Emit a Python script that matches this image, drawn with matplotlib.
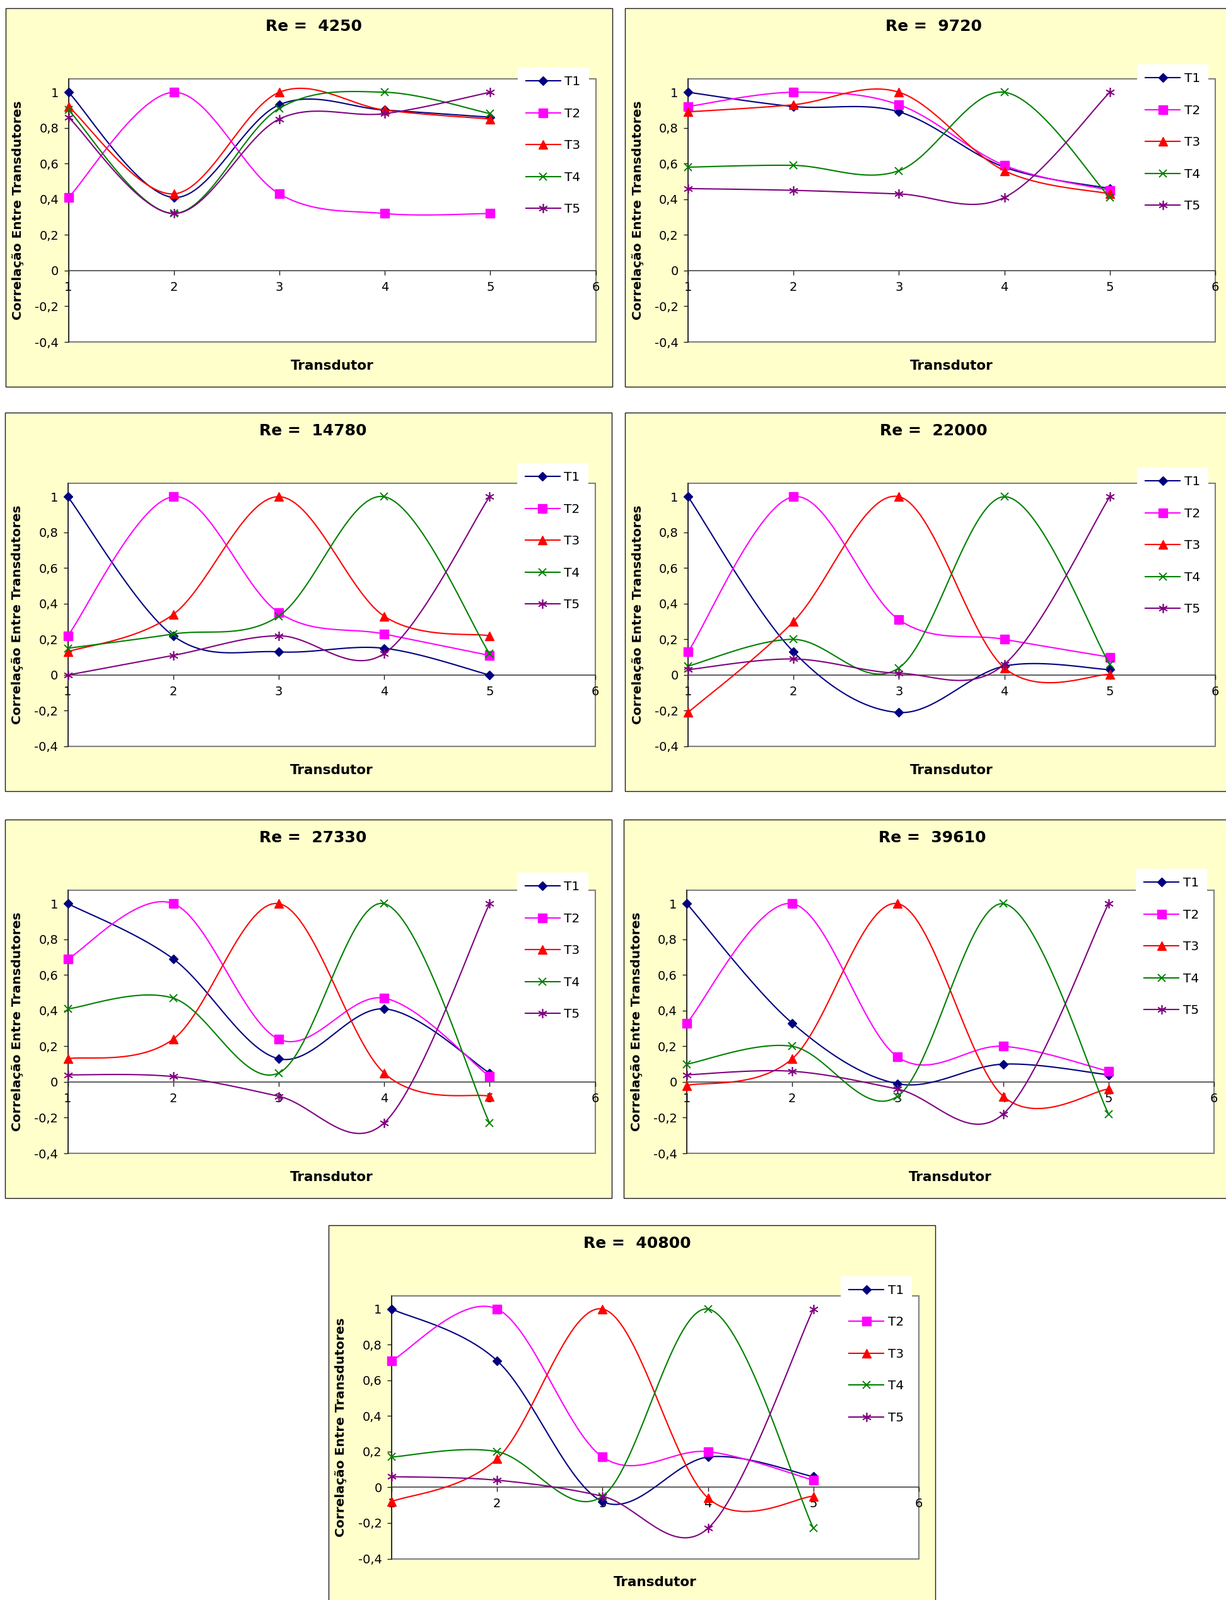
import numpy as np
import matplotlib
matplotlib.use("Agg")
import matplotlib.pyplot as plt
from matplotlib.patches import Rectangle

# ---------------- data ----------------
titles = ["Re =  4250", "Re =  9720", "Re =  14780", "Re =  22000",
          "Re =  27330", "Re =  39610", "Re =  40800"]
transducers = [1, 2, 3, 4, 5]
series_names = ["T1", "T2", "T3", "T4", "T5"]
xtick_values = [1, 2, 3, 4, 5, 6]
xtick_labels = ["1", "2", "3", "4", "5", "6"]
ytick_values = [-0.4, -0.2, 0.0, 0.2, 0.4, 0.6, 0.8, 1.0]
ytick_labels = ["-0,4", "-0,2", "0", "0,2", "0,4", "0,6", "0,8", "1"]
xlabel_text = "Transdutor"
ylabel_text = "Correlação Entre Transdutores"

re4250 = [[1.00, 0.41, 0.93, 0.90, 0.86],
          [0.41, 1.00, 0.43, 0.32, 0.32],
          [0.92, 0.43, 1.00, 0.90, 0.85],
          [0.90, 0.32, 0.91, 1.00, 0.88],
          [0.86, 0.32, 0.85, 0.88, 1.00]]
re9720 = [[1.00, 0.92, 0.89, 0.58, 0.46],
          [0.92, 1.00, 0.93, 0.59, 0.45],
          [0.89, 0.93, 1.00, 0.56, 0.43],
          [0.58, 0.59, 0.56, 1.00, 0.41],
          [0.46, 0.45, 0.43, 0.41, 1.00]]
re14780 = [[1.00, 0.22, 0.13, 0.15, 0.00],
           [0.22, 1.00, 0.35, 0.23, 0.11],
           [0.13, 0.34, 1.00, 0.33, 0.22],
           [0.15, 0.23, 0.33, 1.00, 0.12],
           [0.00, 0.11, 0.22, 0.12, 1.00]]
re22000 = [[1.00, 0.13, -0.21, 0.05, 0.03],
           [0.13, 1.00, 0.31, 0.20, 0.10],
           [-0.21, 0.30, 1.00, 0.04, 0.003],
           [0.05, 0.20, 0.04, 1.00, 0.06],
           [0.03, 0.09, 0.01, 0.06, 1.00]]
re27330 = [[1.00, 0.69, 0.13, 0.41, 0.05],
           [0.69, 1.00, 0.24, 0.47, 0.03],
           [0.13, 0.24, 1.00, 0.05, -0.08],
           [0.41, 0.47, 0.05, 1.00, -0.23],
           [0.04, 0.03, -0.08, -0.23, 1.00]]
re39610 = [[1.00, 0.33, -0.01, 0.10, 0.04],
           [0.33, 1.00, 0.14, 0.20, 0.06],
           [-0.02, 0.13, 1.00, -0.08, -0.04],
           [0.10, 0.20, -0.08, 1.00, -0.18],
           [0.04, 0.06, -0.04, -0.18, 1.00]]
re40800 = [[1.00, 0.71, -0.08, 0.17, 0.06],
           [0.71, 1.00, 0.17, 0.20, 0.04],
           [-0.08, 0.16, 1.00, -0.06, -0.05],
           [0.17, 0.20, -0.05, 1.00, -0.23],
           [0.06, 0.04, -0.05, -0.23, 1.00]]
panels_data = [re4250, re9720, re14780, re22000, re27330, re39610, re40800]

# ---------------- styles / layout ----------------
colors = ["#000080", "#FF00FF", "#FF0000", "#008000", "#800080"]
markers = ["D", "s", "^", "x", (6, 2, 0)]
msizes = [7.0, 9.5, 9.5, 9, 10.5]
mews = [1.0, 1.0, 1.0, 1.4, 1.2]

W, H = 1944, 2536
# frame (left, top) in pixels, and legend-box top offset inside frame
frames = [(8.5, 13), (991, 13), (7.5, 654), (991, 654),
          (7.5, 1299), (989, 1299), (521, 1941.5)]
legend_tops = [94, 89, 80, 87, 84, 78, 81]
FW, FH = 962, 600
PL, PT, PW, PH = 100, 112, 836, 417

plt.rcParams["font.family"] = ["DejaVu Sans"]

fig = plt.figure(figsize=(W / 100, H / 100), dpi=100, facecolor="white")


def fx(p):
    return p / W


def fy(p):
    return 1 - p / H


def excel_smooth(x, y, n=30):
    x = np.asarray(x, float)
    y = np.asarray(y, float)
    P = np.column_stack([x, y])
    Pp = np.vstack([P[:1], P, P[-1:]])
    pts = [P[0]]
    idx = [0]
    t = np.linspace(0, 1, n + 1)[1:][:, None]
    for i in range(len(P) - 1):
        p0, p3 = P[i], P[i + 1]
        prev, nxt = Pp[i], Pp[i + 3]
        c1 = p0 + (p3 - prev) / 6.0
        c2 = p3 - (nxt - p0) / 6.0
        seg = ((1 - t) ** 3) * p0 + 3 * ((1 - t) ** 2) * t * c1 \
            + 3 * (1 - t) * t ** 2 * c2 + t ** 3 * p3
        pts.extend(seg)
        idx.append(len(pts) - 1)
    pts = np.array(pts)
    return pts[:, 0], pts[:, 1], idx


for k, (L, T) in enumerate(frames):
    # yellow chart frame
    fig.add_artist(Rectangle((fx(L), fy(T + FH)), FW / W, FH / H,
                             transform=fig.transFigure, facecolor="#FFFFCC",
                             edgecolor="#1a1a1a", linewidth=1.0, zorder=-10))
    ax = fig.add_axes([fx(L + PL), fy(T + PT + PH), PW / W, PH / H])
    ax.set_facecolor("white")
    ax.set_xlim(1, 6)
    ax.set_ylim(-0.4, 1.075)

    for s in range(5):
        xs, ys, idx = excel_smooth(transducers, panels_data[k][s])
        ax.plot(xs, ys, color=colors[s], lw=1.5, marker=markers[s],
                markevery=idx, ms=msizes[s], mew=mews[s],
                mec=colors[s], mfc=colors[s], label=series_names[s],
                zorder=3, clip_on=False)

    # plot-area grey border
    ax.add_patch(Rectangle((0, 0), 1, 1, transform=ax.transAxes, fill=False,
                           edgecolor="#808080", lw=1.5, zorder=1, clip_on=False))
    for sp in ["top", "right"]:
        ax.spines[sp].set_visible(False)
    ax.spines["left"].set_color("#1a1a1a")
    ax.spines["left"].set_linewidth(1.1)
    ax.spines["left"].set_zorder(2)
    ax.spines["bottom"].set_position(("data", 0))
    ax.spines["bottom"].set_color("#333333")
    ax.spines["bottom"].set_linewidth(1.1)

    ax.set_xticks(xtick_values)
    ax.set_xticklabels(xtick_labels)
    ax.set_yticks(ytick_values)
    ax.set_yticklabels(ytick_labels)
    ax.tick_params(axis="x", direction="out", length=5, width=1.0,
                   pad=7, labelsize=14, colors="#1a1a1a", labelcolor="black")
    ax.tick_params(axis="y", direction="out", length=5, width=1.0,
                   pad=6, labelsize=14, colors="#1a1a1a", labelcolor="black")

    leg = ax.legend(loc="upper left",
                    bbox_to_anchor=(fx(L + 812), fy(T + legend_tops[k])),
                    bbox_transform=fig.transFigure, borderaxespad=0,
                    frameon=True, fancybox=False, facecolor="white",
                    edgecolor="white", framealpha=1, fontsize=14.5,
                    handlelength=2.73, handletextpad=0.3, borderpad=0.67,
                    labelspacing=1.56)
    leg.set_zorder(6)
    leg.get_frame().set_linewidth(0)

    # title, axis labels
    fig.text(fx(L + 489), fy(T + 36), titles[k], ha="center", va="baseline",
             fontsize=18, fontweight="bold")
    fig.text(fx(L + PL + PW / 2), fy(T + 573), xlabel_text, ha="center",
             va="baseline", fontsize=15.5, fontweight="bold")
    fig.text(fx(L + 20), fy(T + PT + PH / 2), ylabel_text, ha="center",
             va="center", rotation=90, fontsize=14.5, fontweight="bold")

fig.savefig("out.png", dpi=100, facecolor="white")
